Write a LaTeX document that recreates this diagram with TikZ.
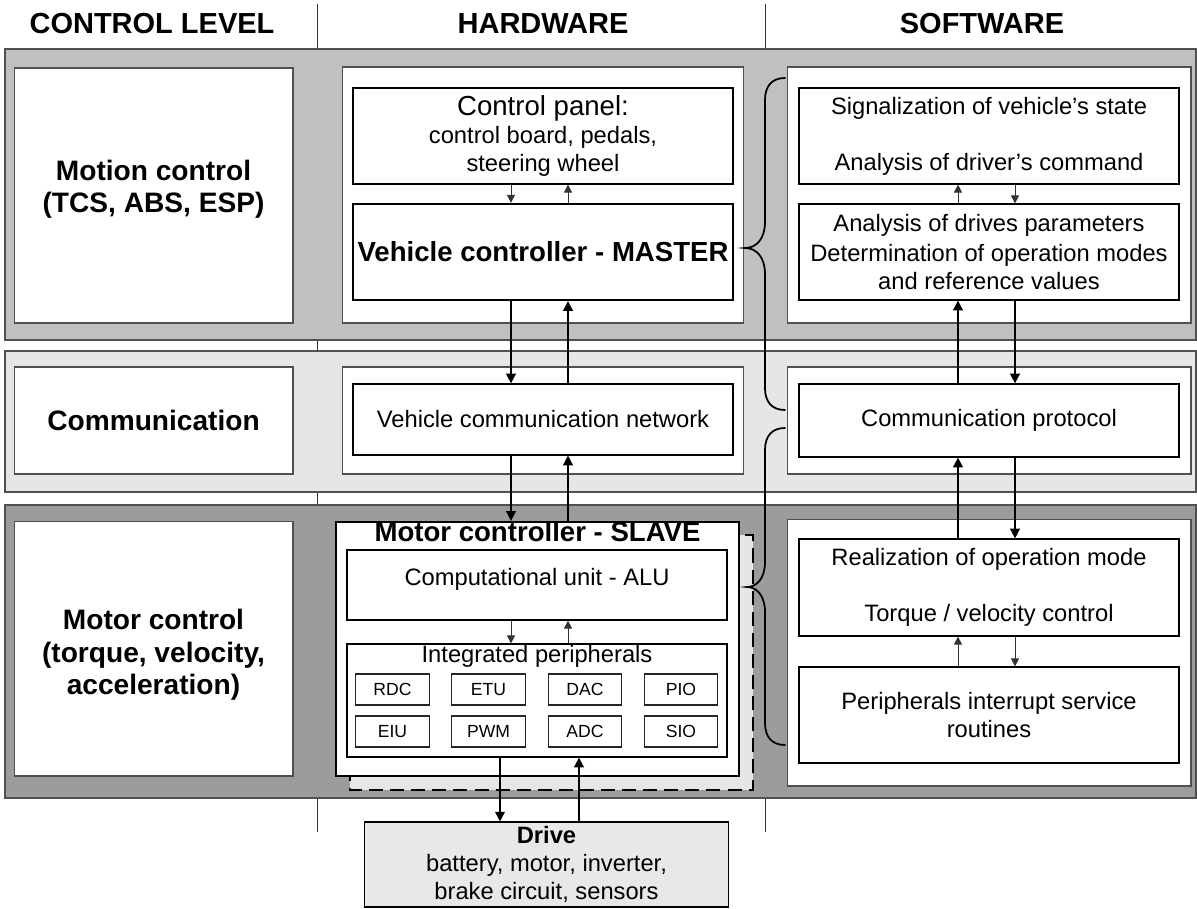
\documentclass[tikz,border=0pt]{standalone}
\usepackage{fontspec}
\setmainfont{Liberation Sans}
\usetikzlibrary{arrows.meta,positioning}
\definecolor{bandA}{RGB}{192,192,192}
\definecolor{bandB}{RGB}{230,230,230}
\definecolor{bandC}{RGB}{156,156,156}
\definecolor{edgeclr}{RGB}{80,80,80}
\definecolor{driveclr}{RGB}{232,232,232}
\newcommand{\txthead}{\fontsize{16.5pt}{19pt}\selectfont\bfseries}
\newcommand{\txtlevel}{\fontsize{16pt}{18.4pt}\selectfont\bfseries}
\newcommand{\txtbig}{\fontsize{15.7pt}{18pt}\selectfont}
\newcommand{\txtbody}{\fontsize{13.5pt}{15.9pt}\selectfont}
\newcommand{\txtchip}{\fontsize{10pt}{12pt}\selectfont}
\tikzset{
  % pasy poziomow sterowania
  band/.style     = {draw=edgeclr, line width=0.6pt},
  lvlframe/.style = {draw=edgeclr, fill=white, line width=0.6pt, inner sep=0pt},
  % bloki
  box/.style      = {draw=black, fill=white, line width=0.7pt, inner sep=0pt,
                     align=center, font=\txtbody},
  mainbox/.style  = {box, line width=1.3pt},
  shadowbox/.style= {draw=black, fill=bandB, line width=1.1pt,
                     dash pattern=on 8pt off 4pt},
  chip/.style     = {draw=black!85, fill=white, line width=0.6pt, inner sep=0pt,
                     minimum width=1.47cm, minimum height=0.62cm, font=\txtchip},
  drivebox/.style = {box, fill=driveclr, line width=0.6pt},
  % etykiety
  levellab/.style = {align=center, font=\txtlevel},
  sepline/.style  = {draw=black!80, line width=0.5pt},
  % strzalki
  bigarr/.style   = {-{Triangle[length=5.5pt,width=5.5pt]}, line width=0.9pt},
  smallarr/.style = {-{Triangle[length=4.5pt,width=4.5pt]}, line width=0.5pt, black!80},
  brc/.style      = {line width=1pt, line cap=round},
}
\begin{document}
\begin{tikzpicture}[x=0.02cm, y=-0.02cm]
  \useasboundingbox (0,0) rectangle (1197,909);
  % linie rozdzielajace kolumny
  \coordinate (sepAt) at (317,4);
  \coordinate (sepAb) at (317,832);
  \coordinate (sepBt) at (765,4);
  \coordinate (sepBb) at (765,832);
  \draw[sepline] (sepAt) -- (sepAb);
  \draw[sepline] (sepBt) -- (sepBb);
  % naglowki
  \node[font=\txthead] (hdlev) at (152,24) {CONTROL LEVEL};
  \node[font=\txthead] (hdhw)  at (543,24) {HARDWARE};
  \node[font=\txthead] (hdsw)  at (982,24) {SOFTWARE};
  % pasy
  \draw[band, fill=bandA] (5,49) rectangle (1196,340);
  \draw[band, fill=bandB] (5,351) rectangle (1196,492);
  \draw[band, fill=bandC] (5,505) rectangle (1196,798);
  % ramki poziomow
  \node[lvlframe, minimum width=5.58cm, minimum height=5.1cm]  (lvA) at (153.5,195.5) {};
  \node[lvlframe, minimum width=5.58cm, minimum height=2.14cm] (lvB) at (153.5,420.5) {};
  \node[lvlframe, minimum width=5.58cm, minimum height=5.1cm]  (lvC) at (153.5,648.5) {};
  \node[lvlframe, minimum width=8.04cm, minimum height=5.12cm] (hwA) at (543,195) {};
  \node[lvlframe, minimum width=8.04cm, minimum height=2.14cm] (hwB) at (543,420.5) {};
  \node[lvlframe, minimum width=8.08cm, minimum height=5.12cm] (swA) at (989,195) {};
  \node[lvlframe, minimum width=8.08cm, minimum height=2.14cm] (swB) at (989,420.5) {};
  \node[lvlframe, minimum width=8.08cm, minimum height=5.34cm] (swC) at (989,652.5) {};
  % nazwy poziomow
  \node[levellab] (lvAt) at ([yshift=0.12cm]lvA.center) {Motion control\\(TCS, ABS, ESP)};
  \node[levellab] (lvBt) at (lvB.center) {Communication};
  \node[levellab] (lvCt) at ([yshift=-0.13cm]lvC.center) {Motor control\\(torque, velocity,\\acceleration)};
  % hardware
  \node[box, minimum width=7.6cm, minimum height=1.92cm] (cp) at (543,136)
    {\txtbig Control panel:\\\txtbody control board, pedals,\\steering wheel};
  \node[mainbox, font=\txtbig\bfseries, minimum width=7.6cm, minimum height=1.92cm] (vc) at (543,252)
    {Vehicle controller - MASTER};
  \node[box, minimum width=7.6cm, minimum height=1.42cm] (vcn) at (543,419.5)
    {Vehicle communication network};
  \draw[shadowbox] (350,535) rectangle (753,790);
  \node[mainbox, minimum width=8.06cm, minimum height=5.08cm] (slv) at (537.5,649) {};
  \node[anchor=base, font=\txtbig\bfseries] (slvt) at ([yshift=-0.42cm]slv.north)
    {Motor controller - SLAVE};
  \node[box, minimum width=7.6cm, minimum height=1.4cm] (alu) at (537,585) {};
  \node[anchor=base, font=\txtbody] (alut) at (alu.center) {Computational unit - ALU};
  \node[box, minimum width=7.6cm, minimum height=2.26cm] (ip) at (537,700.5) {};
  \node[anchor=base, font=\txtbody] (ipt) at ([yshift=-0.38cm]ip.north) {Integrated peripherals};
  \foreach \nm/\cx/\cy in {RDC/392.5/689.5, ETU/488.5/689.5, DAC/585/689.5, PIO/681/689.5,
                           EIU/392.5/731.5, PWM/488.5/731.5, ADC/585/731.5, SIO/681/731.5}
    \node[chip] (chip\nm) at (\cx,\cy) {\nm};
  \node[drivebox, minimum width=7.3cm, minimum height=1.7cm] (drv) at (546.5,864.5)
    {\textbf{Drive}\\battery, motor, inverter,\\brake circuit, sensors};
  % software
  \node[box, minimum width=7.6cm, minimum height=1.92cm] (sig) at (989,136)
    {Signalization of vehicle’s state\\[16pt]Analysis of driver’s command};
  \node[box, minimum width=7.6cm, minimum height=1.92cm] (ana) at (989,252)
    {Analysis of drives parameters\\[1pt]Determination of operation modes\\and reference values};
  \node[box, minimum width=7.6cm, minimum height=1.46cm] (cpr) at (989,420.5)
    {Communication protocol};
  \node[box, minimum width=7.6cm, minimum height=1.94cm] (rea) at (989,587.5)
    {Realization of operation mode\\[16pt]Torque / velocity control};
  \node[box, minimum width=7.6cm, minimum height=1.92cm] (isr) at (989,715)
    {Peripherals interrupt service\\routines};
  % polaczenia hardware
  \coordinate (hL) at (511,0);
  \coordinate (hR) at (568,0);
  \coordinate (dL) at (500,0);
  \coordinate (dR) at (579,0);
  \draw[smallarr] (cp.south -| hL) -- (vc.north -| hL);
  \draw[smallarr] (vc.north -| hR) -- (cp.south -| hR);
  \draw[bigarr] (vc.south -| hL) -- (vcn.north -| hL);
  \draw[bigarr] (vcn.north -| hR) -- (vc.south -| hR);
  \draw[bigarr] (vcn.south -| hL) -- (slv.north -| hL);
  \draw[bigarr] (slv.north -| hR) -- (vcn.south -| hR);
  \draw[smallarr] (alu.south -| hL) -- (ip.north -| hL);
  \draw[smallarr] (ip.north -| hR) -- (alu.south -| hR);
  \draw[bigarr] (ip.south -| dL) -- (drv.north -| dL);
  \draw[bigarr] (drv.north -| dR) -- (ip.south -| dR);
  % polaczenia software
  \coordinate (sL) at (958,0);
  \coordinate (sR) at (1015,0);
  \draw[smallarr] (ana.north -| sL) -- (sig.south -| sL);
  \draw[smallarr] (sig.south -| sR) -- (ana.north -| sR);
  \draw[bigarr] (cpr.north -| sL) -- (ana.south -| sL);
  \draw[bigarr] (ana.south -| sR) -- (cpr.north -| sR);
  \draw[bigarr] (rea.north -| sL) -- (cpr.south -| sL);
  \draw[bigarr] (cpr.south -| sR) -- (rea.north -| sR);
  \draw[smallarr] (isr.north -| sL) -- (rea.south -| sL);
  \draw[smallarr] (rea.south -| sR) -- (isr.north -| sR);
  % klamry MASTER / SLAVE
  \draw[brc] (785,78) .. controls (772,78) and (765,86) .. (765,100)
    -- (765,222) .. controls (765,238) and (757,248) .. (745,248)
    .. controls (757,248) and (765,258) .. (765,274)
    -- (765,388) .. controls (765,402) and (772,410) .. (785,410);
  \draw[brc] (785,428) .. controls (772,428) and (765,436) .. (765,450)
    -- (765,562) .. controls (765,578) and (757,587) .. (747,587)
    .. controls (757,587) and (765,596) .. (765,612)
    -- (765,723) .. controls (765,737) and (772,745) .. (785,745);
\end{tikzpicture}
\end{document}
